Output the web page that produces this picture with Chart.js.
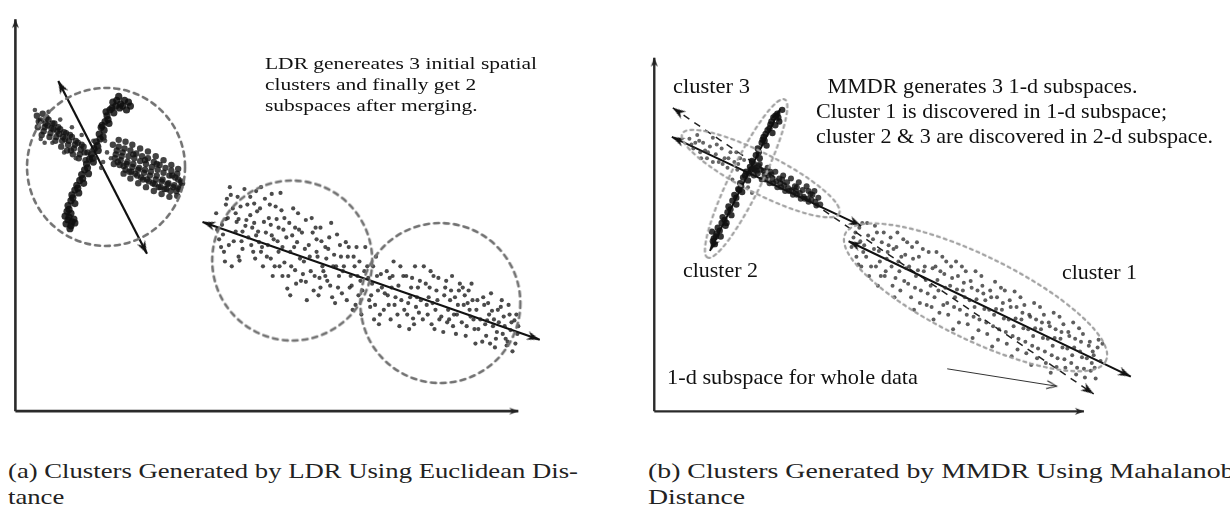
<!DOCTYPE html>
<html>
<head>
<meta charset="utf-8">
<script src="https://cdn.jsdelivr.net/npm/chart.js@4.4.1/dist/chart.umd.min.js"></script>
<style>
html, body { margin: 0; padding: 0; background: #fff; }
body { width: 1230px; height: 518px; position: relative; overflow: hidden; }
canvas { position: absolute; top: 0; }
#left { left: 0; }
#right { left: 600px; }
.note { position: absolute; font-family: "Liberation Serif", "Times New Roman", Times, serif; color: #111; white-space: nowrap; transform-origin: left top; }
.caption { position: absolute; font-family: "Liberation Serif", "Times New Roman", Times, serif; color: #222; white-space: nowrap; font-size: 21px; line-height: 26px; transform-origin: left top; }
</style>
</head>
<body>
<canvas id="left" width="600" height="440"></canvas>
<canvas id="right" width="630" height="440"></canvas>

<div class="note" data-w="272" style="left:265px;top:53px;font-size:17px;line-height:21px;">LDR genereates 3 initial spatial<br>clusters and finally get 2<br>subspaces after merging.</div>

<div class="note" data-w="397" style="left:816px;top:74px;font-size:21px;line-height:25px;"><span style="padding-left:11px">MMDR generates 3 1-d subspaces.</span><br>Cluster 1 is discovered in 1-d subspace;<br>cluster 2 &amp; 3 are discovered in 2-d subspace.</div>
<div class="note" data-w="77" style="left:673px;top:76px;font-size:21px;line-height:20px;">cluster 3</div>
<div class="note" data-w="75" style="left:683px;top:260px;font-size:21px;line-height:20px;">cluster 2</div>
<div class="note" data-w="75" style="left:1062px;top:262px;font-size:21px;line-height:20px;">cluster 1</div>
<div class="note" data-w="251" style="left:667px;top:367px;font-size:21px;line-height:20px;">1-d subspace for whole data</div>

<div class="caption" data-w="570" style="left:8px;top:458px;">(a) Clusters Generated by LDR Using Euclidean Dis-<br>tance</div>
<div class="caption" data-w="605" style="left:648px;top:458px;">(b) Clusters Generated by MMDR Using Mahalanobis<br>Distance</div>

<script>
// ---- left panel (x to the right, y upwards, origin at the axes corner) ----
const leftAxisX = [0, 0, 516, 0];
const leftAxisY = [0, 0, 0, 406];
const leftArrows = [[44, 342, 135, 163], [192, 196, 538, 74]];
const leftCircles = [[93, 253, 79], [284, 156, 80], [436, 112, 80]];

const leftArmA = [[104,322],[108,318],[100,320],[97,312],[101,309],[94,306],[92,300],[96,298],[88,294],[86,287],[90,284],[83,279],[81,272],[85,270],[78,266],[76,261],[80,258],[73,256],[71,250],[75,246],[68,245],[66,239],[70,236],[63,234],[61,229],[65,226],[58,224],[57,218],[61,215],[54,213],[53,207],[57,205],[51,202],[54,198],[58,196],[52,194],[57,192],[61,195],[110,316],[106,326],[114,312],[116,320],
  [103,316],[99,314],[95,302],[91,291],[87,282],[84,275],[79,262],[74,252],[69,241],[64,231],[59,221],[55,209],[55,201],[60,199],[56,189],[107,314],[112,322],[118,316],[93,310],[89,296]];

const leftArmB = [[22,306],[23,294],[26,301],[28,308],[29,290],[31,298],[27,286],[34,302],[35,284],[37,293],[33,296],[40,298],[41,280],[43,290],[39,292],[46,292],[47,274],[49,284],[45,287],[52,288],[53,270],[55,280],[51,282],[58,284],[59,266],[61,276],[57,270],[64,278],[65,262],[67,271],[70,274],[72,260],[74,268],
  [24,300],[30,294],[32,304],[36,288],[38,298],[42,284],[44,294],[48,280],[50,289],[54,276],[56,286],[60,272],[62,280],[66,266],[68,276],[71,268],
  [100,276],[102,262],[104,270],[101,256],[106,274],[108,260],[110,268],[107,255],[112,272],[114,256],[116,264],[113,250],[118,270],[120,253],[122,262],[119,248],[124,267],[126,250],[128,259],[125,244],[130,264],[132,247],[134,256],[131,240],[136,262],[138,244],[140,253],[137,238],[142,258],[144,240],[146,250],[143,235],[148,255],[150,238],[152,247],[149,232],[154,252],[156,235],[158,244],[155,230],[160,249],[162,232],[164,242],[166,246],[168,230],[170,238],
  [103,266],[105,258],[109,264],[111,254],[115,258],[117,248],[121,256],[123,246],[127,252],[129,242],[133,250],[135,240],[139,248],[141,236],[145,244],[147,232],[151,240],[153,230],[157,236],[159,228],[163,234],[165,228],[169,232],[161,244],[167,240],[171,236],[145,256],[133,260],[121,266],
  [106,281],[113,279],[120,276],[128,272],[136,269],[144,264],[152,260],[160,255],[167,251],[111,246],[118,241],[126,236],[134,232],[142,228],[150,225],[158,222],[166,223]];

const leftArmBLight = [[78,270],[82,262],[86,274],[90,258],[94,268],[98,262],[80,280],[92,280],[88,252],
  [20,312],[26,282],[34,310],[38,278],[46,302],[50,268],[58,294],[62,262],[68,286],[30,278]];

const leftLower = [[206,205],[209,178],[212,193],[214,165],[207,188],[216,214],[211,170],[218,200],
  [221,224],[224,176],[227,196],[229,160],[231,212],[233,186],[222,150],[235,230],[226,205],[233,168],
  [241,222],[243,190],[246,158],[248,207],[250,175],[252,232],[244,165],[255,196],[239,180],[254,150],
  [261,214],[263,182],[266,150],[268,199],[270,165],[272,226],[264,140],[275,188],[259,172],[273,208],
  [281,195],[283,150],[286,170],[288,132],[290,205],[292,158],[284,182],[295,142],[279,127],[294,185],
  [301,172],[303,145],[306,125],[308,190],[310,160],[312,138],[304,200],[315,150],[299,115],[314,176],
  [321,168],[323,130],[326,150],[328,112],[330,183],[332,140],[324,195],[335,122],[319,158],[334,160],
  [341,160],[343,128],[346,105],[348,150],[350,170],[352,120],[344,140],[355,100],[339,175],[354,135],
  [361,150],[363,115],[366,132],[368,95],[370,160],[372,125],[364,108],[375,142],[359,170],[374,100],
  [381,145],[383,110],[386,128],[388,155],[390,118],[392,100],[384,138],[395,150],[379,122],[394,88],
  [401,140],[403,112],[406,128],[408,96],[410,150],[412,118],[404,85],[415,135],[399,105],[414,102],
  [421,132],[423,100],[426,145],[428,112],[430,85],[432,125],[424,118],[435,95],[419,150],[434,138],
  [441,128],[443,92],[446,115],[448,140],[450,100],[452,80],[444,105],[455,125],[439,82],[454,110],
  [461,120],[463,88],[466,105],[468,132],[470,95],[472,70],[464,112],[475,85],[459,128],[474,115],
  [481,110],[483,78],[486,100],[488,122],[490,88],[492,66],[484,94],[495,105],[479,72],[494,82],
  [501,98],[503,75],[506,110],[508,84],[510,62],[512,94],[504,68],[515,80],[499,115],[514,100],
  [217,220],[237,198],[249,186],[258,160],[269,176],[276,154],[287,190],[298,134],[309,178],[318,140],
  [229,199],[245,215],[262,193],[280,140],[297,168],[313,128],[327,162],[336,145],[252,165],[241,203],
  [213,183],[216,199],[219,172],[223,210],[226,186],[228,222],[232,176],[236,192],[238,214],[230,156],[220,232],[215,155],
  [242,172],[245,195],[247,182],[251,210],[253,170],[256,220],[257,185],[260,200],[262,158],[265,178],[267,212],[270,190],[247,228],[263,225],
  [271,150],[274,170],[276,200],[278,180],[282,165],[285,210],[287,146],[289,175],[291,188],[293,135],[296,155],[298,198],[274,140],[282,120],
  [302,160],[305,185],[307,140],[309,165],[311,120],[313,190],[316,145],[318,170],[320,135],[322,180],[325,118],[329,150],[331,128],[333,172],
  [337,150],[340,115],[342,170],[345,130],[347,160],[349,110],[351,140],[353,155],[356,125],[358,145],
  [362,138],[365,120],[367,150],[369,110],[371,140],[373,90],[376,128],[378,105],[382,120],[385,95],[387,140],[389,110],
  [393,130],[396,115],[398,140],[402,100],[405,118],[407,138],[409,90],[411,108],[413,128],[416,115],[418,95],
  [422,110],[425,128],[427,90],[429,140],[431,105],[433,115],[437,98],[440,120],[442,135],[445,95],[447,125],[449,88],
  [451,118],[453,100],[456,132],[458,92],[460,110],[462,78],[465,125],[467,98],[469,115],[471,85],[473,105],[477,95],
  [480,118],[482,90],[485,112],[487,70],[489,104],[491,95],[493,75],[496,92],[498,108],[500,80],[502,88],[505,72],[507,100],[509,92],[513,70],[516,88]];

// ---- right panel ----
const rightAxisX = [0, 0, 440, 0];
const rightAxisY = [0, 0, 0, 366];
const rightSolidArrows = [[18, 284, 212, 192], [129, 313, 57, 166], [199, 176, 488, 36]];
const rightWholeData = [19, 314, 450, 18];
const rightPointer = [300, 44, 412, 26];
const rightEllipses = [[94, 241, 88, 16, 116], [109, 246, 88, 20, 27], [329, 118, 145, 42, 26]];

const rightArm2 = [[126,308],[122,304],[128,300],[119,297],[116,291],[121,288],[112,284],[110,278],[115,275],[106,272],[104,265],[108,262],[100,259],[98,253],[103,250],[94,248],[91,242],[96,239],[88,236],[86,230],[90,227],[82,224],[80,218],[84,214],[76,212],[75,206],[79,203],[70,201],[69,195],[73,192],[65,190],[64,184],[68,181],[61,179],[62,173],[59,186],[131,312],[124,296],
  [124,306],[127,304],[118,293],[114,287],[111,281],[107,268],[102,256],[97,246],[93,244],[89,233],[84,221],[78,209],[72,198],[67,187],[63,181],[60,176],[120,300],[113,280],[99,250],[87,229],[74,195]];

const rightArm3Light = [[36,282],[40,272],[44,286],[47,268],[50,278],[54,262],[57,274],[60,283],[63,266],[66,258],[69,272],[72,262],[75,252],[78,268],[82,258],[85,250],[88,262],[42,278],[52,270],[60,258],[92,260],[96,232],[100,226],[84,268],[80,240],
  [38,276],[46,280],[55,268],[64,276],[70,256],[76,262],[86,256],[48,262]];

const rightArm3 = [[100,258],[102,244],[104,252],[108,256],[110,240],[112,249],[106,246],[116,252],[118,236],[120,245],[114,240],[124,248],[126,232],[128,241],[122,236],[132,244],[134,228],[136,237],[130,232],[140,241],[142,224],[144,233],[138,228],[148,237],[150,220],[152,229],[146,224],[156,233],[158,217],[160,225],[154,220],[164,228],[166,213],[168,221],
  [101,251],[105,249],[109,250],[113,245],[117,244],[121,240],[125,238],[129,236],[133,234],[137,231],[141,229],[145,228],[149,226],[153,222],[157,220],[161,219],[165,217],[162,224],[146,232],[131,240],[119,248],[107,254],[170,214],[158,228]];

const rightCluster1 = [[204,180],[207,160],[210,190],[212,150],[215,172],[218,195],[214,165],[220,140],
  [224,178],[227,150],[230,166],[232,140],[235,185],[238,158],[229,130],[240,172],[226,192],[237,145],
  [245,168],[247,138],[250,155],[252,125],[255,178],[258,148],[249,185],[260,132],[246,118],[257,162],
  [265,158],[267,128],[270,146],[272,112],[275,168],[278,136],[269,175],[280,122],[266,105],[277,150],
  [285,148],[287,118],[290,136],[292,102],[295,160],[298,128],[289,165],[300,112],[286,95],[297,142],
  [305,138],[307,108],[310,126],[312,92],[315,150],[318,118],[309,155],[320,100],[306,85],[317,133],
  [325,128],[327,98],[330,116],[332,84],[335,140],[338,106],[329,145],[340,92],[326,76],[337,122],
  [345,118],[347,88],[350,106],[352,74],[355,128],[358,96],[349,134],[360,82],[346,67],[357,112],
  [365,108],[367,78],[370,96],[372,64],[375,118],[378,86],[369,124],[380,72],[366,57],[377,102],
  [385,98],[387,68],[390,86],[392,55],[395,108],[398,76],[389,112],[400,62],[386,48],[397,92],
  [405,88],[407,58],[410,76],[412,46],[415,98],[418,66],[409,102],[420,54],[406,40],[417,82],
  [425,78],[427,50],[430,66],[432,38],[435,86],[438,56],[429,92],[440,44],[437,72],
  [445,68],[447,42],[450,58],[452,34],[455,74],[448,50],
  [202,170],[206,185],[209,152],[211,176],[213,195],[217,160],[219,182],[222,150],[225,168],[228,185],[231,155],[233,175],[236,140],[239,165],[242,180],[243,150],[244,130],[248,170],[251,145],[253,160],[256,135],[259,175],[261,150],[263,118],[264,170],[268,140],[271,160],[273,125],[276,145],[279,110],[281,165],[283,130],[284,108],[288,150],[291,125],[293,145],[296,110],[299,155],[301,100],[303,130],[304,150],[308,118],[311,140],[313,105],[316,125],[319,145],[321,90],[323,115],[324,135],[328,108],[331,125],[333,95],[336,130],[339,115],[341,80],[343,105],[344,125],[348,100],[351,118],[353,85],[356,105],[359,125],[361,70],[363,95],[364,115],[368,88],[371,108],[373,75],[376,95],[379,110],[381,60],[383,85],[384,100],[388,78],[391,95],[393,65],[396,85],[399,100],[401,50],[403,75],[404,92],[408,68],[411,85],[413,55],[416,75],[419,90],[421,45],[423,65],[424,82],[428,58],[431,75],[433,45],[436,62],[439,80],[441,35],[443,55],[446,72],[449,62],[451,45],[454,66],[457,52],[459,70]];

// ---- helpers ----
const makeHead = (len, half, color, open) => {
    const w = Math.ceil(half * 2 + 6);
    const h = Math.ceil(len * 2 + 6);
    const c = document.createElement('canvas');
    c.width = w;
    c.height = h;
    const g = c.getContext('2d');
    const cx = w / 2, cy = h / 2;
    g.beginPath();
    g.moveTo(cx - half, cy + len);
    g.lineTo(cx, cy);
    g.lineTo(cx + half, cy + len);
    if (open) {
        g.strokeStyle = color;
        g.lineWidth = 1.2;
        g.stroke();
    } else {
        g.lineTo(cx, cy + len * 0.7);
        g.closePath();
        g.fillStyle = color;
        g.fill();
    }
    return c;
};

const makeRing = (a, b, angle, dash, color, width) => {
    const size = Math.ceil(2 * Math.max(a, b) + width * 2 + 6);
    const c = document.createElement('canvas');
    c.width = size;
    c.height = size;
    const g = c.getContext('2d');
    g.strokeStyle = color;
    g.lineWidth = width;
    g.lineCap = 'round';
    g.setLineDash(dash);
    g.beginPath();
    g.ellipse(size / 2, size / 2, a, b, angle * Math.PI / 180, 0, Math.PI * 2);
    g.stroke();
    return c;
};

const headAngle = (ctx) => {
    if (ctx.dataIndex === undefined) return 0;
    const pts = ctx.dataset.data;
    const tip = pts[ctx.dataIndex];
    const tail = pts[1 - ctx.dataIndex];
    const { x: sx, y: sy } = ctx.chart.scales;
    const dx = sx.getPixelForValue(tip.x) - sx.getPixelForValue(tail.x);
    const dy = sy.getPixelForValue(tip.y) - sy.getPixelForValue(tail.y);
    return Math.atan2(dy, dx) * 180 / Math.PI + 90;
};

const arrowSet = ([x1, y1, x2, y2], style) => ({
    data: [{ x: x1, y: y1 }, { x: x2, y: y2 }],
    showLine: true,
    borderColor: style.color,
    borderWidth: style.width,
    borderDash: style.dash || [],
    pointStyle: style.head,
    pointRadius: style.both ? [5, 5] : [0, 5],
    pointRotation: headAngle
});

const dotSet = (pts, color, radius) => ({
    data: pts.map(([x, y]) => ({ x, y })),
    showLine: false,
    pointRadius: radius,
    pointBackgroundColor: color,
    pointBorderWidth: 0
});

const ringSet = (x, y, img) => ({
    data: [{ x, y }],
    showLine: false,
    pointStyle: img,
    pointRadius: 5
});

const buildPanel = (id, xr, yr, datasets) => new Chart(document.getElementById(id), {
    type: 'scatter',
    data: { datasets },
    options: {
        responsive: false,
        animation: false,
        events: [],
        layout: { padding: 0 },
        plugins: { legend: { display: false }, tooltip: { enabled: false } },
        scales: {
            x: { type: 'linear', display: false, min: xr[0], max: xr[1] },
            y: { type: 'linear', display: false, min: yr[0], max: yr[1] }
        }
    }
});

const axisHead = makeHead(9, 3.5, '#222', false);
const bigHead = makeHead(13, 4.5, '#111', false);
const thinHead = makeHead(10, 4, '#333', true);

const leftDatasets = [
    ...leftCircles.map(([x, y, r]) => ringSet(x, y, makeRing(r, r, 0, [5, 5], '#727272', 2.6))),
    dotSet(leftLower, 'rgba(30,30,30,0.8)', 2.1),
    dotSet(leftArmBLight, 'rgba(40,40,40,0.8)', 2.3),
    dotSet(leftArmB, 'rgba(20,20,20,0.8)', 3.2),
    dotSet(leftArmA, 'rgba(15,15,15,0.85)', 3.6),
    ...leftArrows.map(a => arrowSet(a, { color: '#111', width: 2.2, head: bigHead, both: true })),
    arrowSet(leftAxisX, { color: '#2a2a2a', width: 2.6, head: axisHead }),
    arrowSet(leftAxisY, { color: '#2a2a2a', width: 2.6, head: axisHead })
];

const rightDatasets = [
    ...rightEllipses.map(([x, y, a, b, ang]) => ringSet(x, y, makeRing(a, b, ang, [3, 4], '#a0a0a0', 2.2))),
    dotSet(rightCluster1, 'rgba(40,40,40,0.75)', 2),
    dotSet(rightArm3Light, 'rgba(50,50,50,0.75)', 2),
    dotSet(rightArm3, 'rgba(20,20,20,0.8)', 3),
    dotSet(rightArm2, 'rgba(15,15,15,0.85)', 3.2),
    ...rightSolidArrows.map(a => arrowSet(a, { color: '#111', width: 2, head: bigHead, both: true })),
    arrowSet(rightWholeData, { color: '#222', width: 1.5, dash: [7, 6], head: bigHead, both: true }),
    arrowSet(rightPointer, { color: '#333', width: 1, head: thinHead }),
    arrowSet(rightAxisX, { color: '#2a2a2a', width: 2.4, head: axisHead }),
    arrowSet(rightAxisY, { color: '#2a2a2a', width: 2.4, head: axisHead })
];

buildPanel('left', [-8, 592], [-22, 418], leftDatasets);
buildPanel('right', [-48, 582], [-22, 418], rightDatasets);

// squeeze text blocks to the widths measured on the picture
document.querySelectorAll('[data-w]').forEach(el => {
    const w = el.getBoundingClientRect().width;
    el.style.transform = `scaleX(${el.dataset.w / w})`;
});
</script>
</body>
</html>
